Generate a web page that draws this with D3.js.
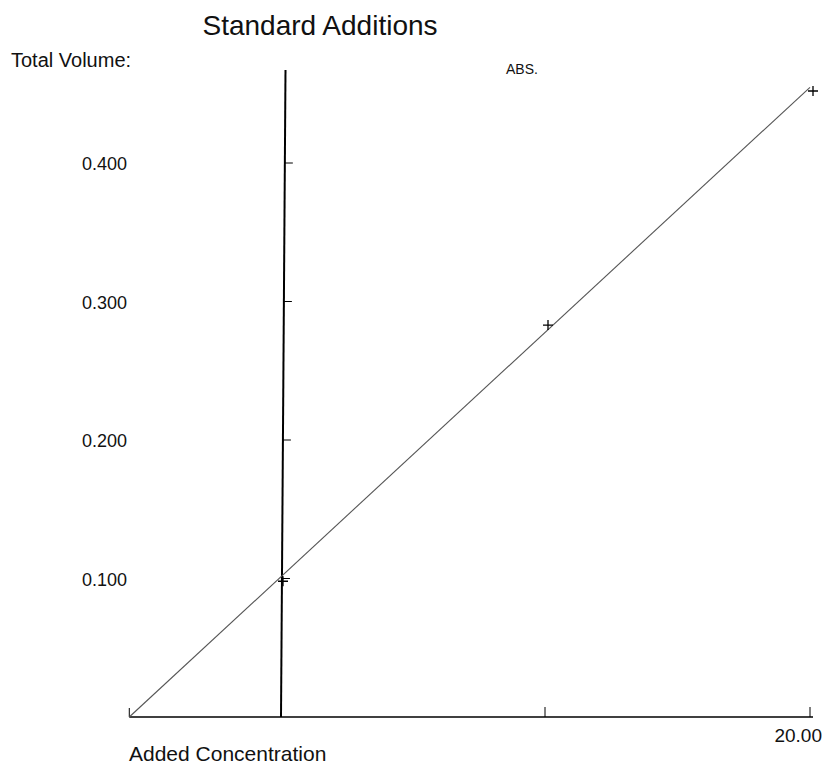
<!DOCTYPE html>
<html><head><meta charset="utf-8">
<script src="https://cdn.jsdelivr.net/npm/d3@7"></script>
<style>body{margin:0;background:#fff;}text{font-family:"Liberation Sans",Arial,sans-serif;fill:#111;}</style>
</head><body>
<svg id="chart" width="826" height="769"></svg>
<script>
const addedConc = [0, 10, 20];
const absValues = [0.098, 0.283, 0.452];
const yTickValues = [0.1, 0.2, 0.3, 0.4];
const yTickLabels = ["0.100", "0.200", "0.300", "0.400"];
const xTickValues = [10, 20];
const xTickLabels = ["", "20.00"];

const svg = d3.select("#chart");
const x = d3.scaleLinear().domain([0, 20]).range([280, 810]);
const y = d3.scaleLinear().domain([0, 0.4]).range([717, 163]);
// slight tilt of the scanned vertical axis: x offset grows toward the top
const tilt = d3.scaleLinear().domain([y(0), 70]).range([0, 4.5]);

// regression
const mx = d3.mean(addedConc), my = d3.mean(absValues);
const slope = d3.sum(addedConc.map((v,i)=>(v-mx)*(absValues[i]-my))) / d3.sum(addedConc.map(v=>(v-mx)**2));
const intercept = my - slope*mx;
const xInt = -intercept/slope;

// title & labels
svg.append("text").attr("x", 320).attr("y", 35).attr("text-anchor","middle").attr("font-size", 28).text("Standard Additions");
svg.append("text").attr("x", 11).attr("y", 67).attr("font-size", 20).text("Total Volume:");
svg.append("text").attr("x", 506).attr("y", 74).attr("font-size", 14).text("ABS.");
svg.append("text").attr("x", 129).attr("y", 761).attr("font-size", 21).text("Added Concentration");

// x axis line
svg.append("line").attr("x1", x(xInt)).attr("x2", 813).attr("y1", y(0)).attr("y2", y(0)).attr("stroke","#000").attr("stroke-width",1.6);
// left end tick
svg.append("line").attr("x1", x(xInt)).attr("x2", x(xInt)).attr("y1", y(0)).attr("y2", y(0)-9).attr("stroke","#000").attr("stroke-width",1);
// x ticks
const xt = svg.append("g").selectAll("g").data(xTickValues).join("g");
xt.append("line").attr("x1", d=>x(d)).attr("x2", d=>x(d)).attr("y1", y(0)).attr("y2", y(0)-10).attr("stroke","#000").attr("stroke-width",1);
xt.append("text").attr("x", d=>x(d)+12).attr("y", 742).attr("text-anchor","end").attr("font-size",19).text((d,i)=>xTickLabels[i]);

// y axis
svg.append("line").attr("x1", x(0)+1+tilt(70)).attr("x2", x(0)+1).attr("y1", 70).attr("y2", y(0)).attr("stroke","#000").attr("stroke-width",2);
const yt = svg.append("g").selectAll("g").data(yTickValues).join("g");
yt.append("line").attr("x1", d=>x(0)+1+tilt(y(d))).attr("x2", d=>x(0)+9+tilt(y(d))).attr("y1", d=>y(d)).attr("y2", d=>y(d)).attr("stroke","#000").attr("stroke-width",1);
yt.append("text").attr("x", 127).attr("y", d=>y(d)+7).attr("text-anchor","end").attr("font-size",18).text((d,i)=>yTickLabels[i]);

// regression line
svg.append("line").attr("x1", x(xInt)).attr("y1", y(0)).attr("x2", x(20)).attr("y2", y(slope*20+intercept))
  .attr("stroke","#555").attr("stroke-width",1.1);

// points as plus markers
svg.append("g").selectAll("path").data(addedConc.map((v,i)=>[v, absValues[i]])).join("path")
  .attr("d", d=>{const cx=x(d[0])+3, cy=y(d[1]); return `M${cx-5},${cy}H${cx+5}M${cx},${cy-5}V${cy+5}`;})
  .attr("stroke","#000").attr("stroke-width",1.3).attr("fill","none");
</script>
</body></html>
